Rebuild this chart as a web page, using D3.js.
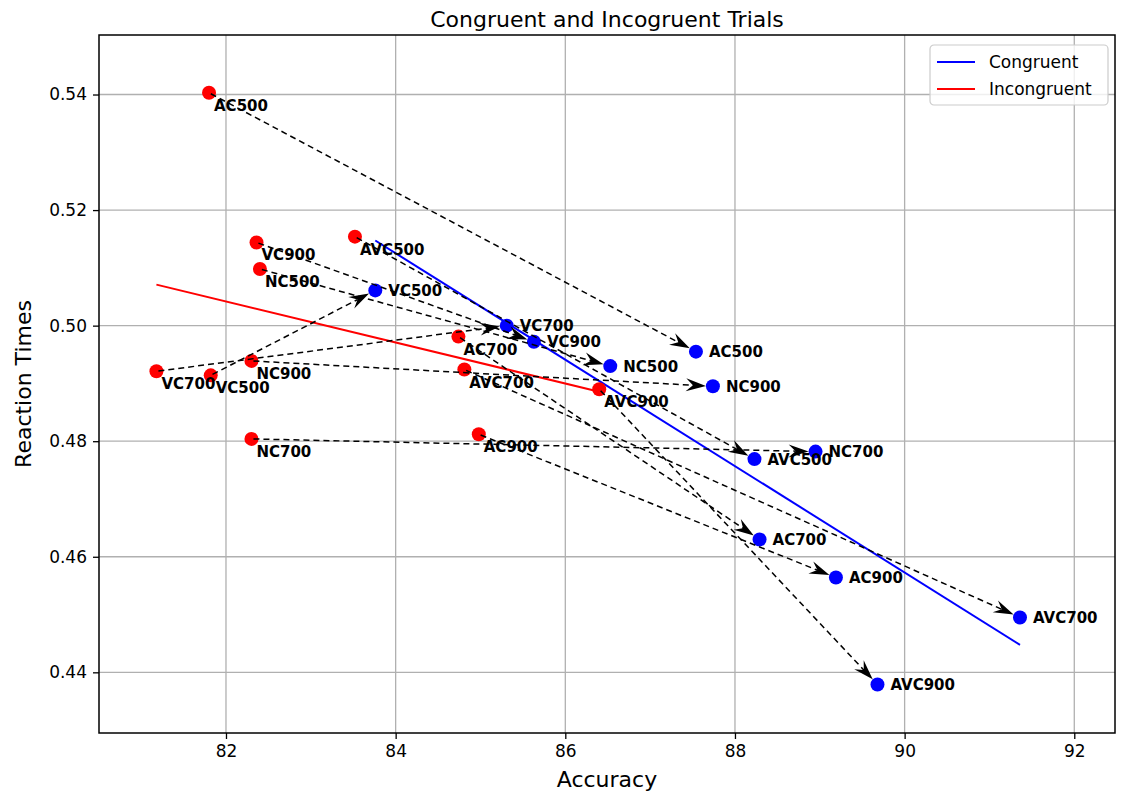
<!DOCTYPE html>
<html>
<head>
<meta charset="utf-8">
<script src="https://cdn.jsdelivr.net/npm/d3@7"></script>
<style>
  body { margin: 0; background: #fff; }
  svg { display: block; }
  text { font-family: "DejaVu Sans", sans-serif; }
</style>
</head>
<body>
<svg id="chart" width="1121" height="793"></svg>
<script>
// Condition names (shared by both trial types)
const conditions = ["AC500", "AC700", "AC900", "VC500", "VC700", "VC900",
                    "NC500", "NC700", "NC900", "AVC500", "AVC700", "AVC900"];

// Incongruent trials: accuracy (%) and reaction time (s)
const incongruentAccuracy = [81.80, 84.74, 84.98, 81.82, 81.18, 82.36,
                             82.40, 82.30, 82.30, 83.52, 84.81, 86.40];
const incongruentRT = [0.5403, 0.4981, 0.4812, 0.4914, 0.4921, 0.5144,
                       0.5098, 0.4804, 0.4939, 0.5154, 0.4924, 0.4890];

// Congruent trials: accuracy (%) and reaction time (s)
const congruentAccuracy = [87.54, 88.29, 89.19, 83.76, 85.31, 85.63,
                           86.53, 88.95, 87.74, 88.23, 91.36, 89.68];
const congruentRT = [0.4955, 0.4630, 0.4564, 0.5061, 0.5000, 0.4972,
                     0.4930, 0.4782, 0.4895, 0.4769, 0.4495, 0.4379];

const xTicks = [82, 84, 86, 88, 90, 92];
const yTicks = [0.44, 0.46, 0.48, 0.50, 0.52, 0.54];
const seriesNames = ["Congruent", "Incongruent"];
const seriesColors = ["#0000ff", "#ff0000"];

const W = 1121, H = 793;
const margin = { left: 99, right: 6, top: 35, bottom: 60 };

const svg = d3.select("#chart");

const x = d3.scaleLinear().domain([80.503, 92.48]).range([margin.left, W - margin.right]);
const y = d3.scaleLinear().domain([0.4295, 0.5503]).range([H - margin.bottom, margin.top]);

// Grid
const grid = svg.append("g");
grid.selectAll("line.vx").data(xTicks).join("line")
  .attr("x1", d => x(d)).attr("x2", d => x(d))
  .attr("y1", margin.top).attr("y2", H - margin.bottom)
  .attr("stroke", "#b0b0b0").attr("stroke-width", 1.3);
grid.selectAll("line.hy").data(yTicks).join("line")
  .attr("y1", d => y(d)).attr("y2", d => y(d))
  .attr("x1", margin.left).attr("x2", W - margin.right)
  .attr("stroke", "#b0b0b0").attr("stroke-width", 1.3);

// Least-squares fit line over the x-range of a series
function fitLine(xs, ys) {
  const mx = d3.mean(xs), my = d3.mean(ys);
  let sxy = 0, sxx = 0;
  xs.forEach((v, i) => { sxy += (v - mx) * (ys[i] - my); sxx += (v - mx) * (v - mx); });
  const slope = sxy / sxx, icpt = my - slope * mx;
  const [x0, x1] = d3.extent(xs);
  return [[x0, icpt + slope * x0], [x1, icpt + slope * x1]];
}

const lineGen = d3.line().x(d => x(d[0])).y(d => y(d[1]));
svg.append("path").datum(fitLine(congruentAccuracy, congruentRT))
  .attr("d", lineGen).attr("fill", "none")
  .attr("stroke", seriesColors[0]).attr("stroke-width", 2);
svg.append("path").datum(fitLine(incongruentAccuracy, incongruentRT))
  .attr("d", lineGen).attr("fill", "none")
  .attr("stroke", seriesColors[1]).attr("stroke-width", 2);

// Points
const rows = conditions.map((c, i) => ({
  name: c,
  ix: incongruentAccuracy[i], iy: incongruentRT[i],
  cx: congruentAccuracy[i], cy: congruentRT[i]
}));

svg.append("g").selectAll("circle").data(rows).join("circle")
  .attr("cx", d => x(d.ix)).attr("cy", d => y(d.iy)).attr("r", 7)
  .attr("fill", seriesColors[1]);
svg.append("g").selectAll("circle").data(rows).join("circle")
  .attr("cx", d => x(d.cx)).attr("cy", d => y(d.cy)).attr("r", 7)
  .attr("fill", seriesColors[0]);

// Point labels
svg.append("g").selectAll("text").data(rows).join("text")
  .attr("x", d => x(d.ix) + 5).attr("y", d => y(d.iy) + 18)
  .attr("font-size", 15).attr("font-weight", "bold").attr("fill", "#000")
  .text(d => d.name);
svg.append("g").selectAll("text").data(rows).join("text")
  .attr("x", d => x(d.cx) + 13).attr("y", d => y(d.cy) + 5.5)
  .attr("font-size", 15).attr("font-weight", "bold").attr("fill", "#000")
  .text(d => d.name);

// Dashed arrows from incongruent to congruent condition
const arrows = svg.append("g");
rows.forEach(d => {
  const x0 = x(d.ix), y0 = y(d.iy), x1 = x(d.cx), y1 = y(d.cy);
  const len = Math.hypot(x1 - x0, y1 - y0);
  const ux = (x1 - x0) / len, uy = (y1 - y0) / len;
  const nx = -uy, ny = ux;
  const gap = 7, L = 20, Wd = 13, notch = 13;
  const tx = x1 - ux * gap, ty = y1 - uy * gap;
  arrows.append("line")
    .attr("x1", x0 + ux * 2).attr("y1", y0 + uy * 2)
    .attr("x2", tx - ux * notch).attr("y2", ty - uy * notch)
    .attr("stroke", "#000").attr("stroke-width", 1.5)
    .attr("stroke-dasharray", "6,4");
  const pts = [
    [tx, ty],
    [tx - ux * L + nx * Wd / 2, ty - uy * L + ny * Wd / 2],
    [tx - ux * notch, ty - uy * notch],
    [tx - ux * L - nx * Wd / 2, ty - uy * L - ny * Wd / 2]
  ];
  arrows.append("polygon").attr("points", pts.map(p => p.join(",")).join(" "))
    .attr("fill", "#000");
});

// Frame
svg.append("rect")
  .attr("x", margin.left).attr("y", margin.top)
  .attr("width", W - margin.left - margin.right)
  .attr("height", H - margin.top - margin.bottom)
  .attr("fill", "none").attr("stroke", "#000").attr("stroke-width", 1.5);

// Axes
const xAxis = svg.append("g").attr("transform", `translate(0,${H - margin.bottom})`)
  .call(d3.axisBottom(x).tickValues(xTicks).tickFormat(d3.format("d")).tickSize(6).tickPadding(6));
const yAxis = svg.append("g").attr("transform", `translate(${margin.left},0)`)
  .call(d3.axisLeft(y).tickValues(yTicks).tickFormat(d3.format(".2f")).tickSize(6).tickPadding(6));
[xAxis, yAxis].forEach(a => {
  a.select(".domain").remove();
  a.selectAll(".tick line").attr("stroke", "#000").attr("stroke-width", 1.3);
  a.selectAll(".tick text").attr("font-size", 17).attr("fill", "#000")
    .attr("font-family", "DejaVu Sans, sans-serif");
});

// Titles
svg.append("text").attr("x", (margin.left + W - margin.right) / 2).attr("y", 27)
  .attr("text-anchor", "middle").attr("font-size", 22).text("Congruent and Incogruent Trials");
svg.append("text").attr("x", (margin.left + W - margin.right) / 2).attr("y", 787)
  .attr("text-anchor", "middle").attr("font-size", 22).text("Accuracy");
svg.append("text")
  .attr("transform", `translate(31,${(margin.top + H - margin.bottom) / 2}) rotate(-90)`)
  .attr("text-anchor", "middle").attr("font-size", 22).text("Reaction Times");

// Legend
const legend = svg.append("g").attr("transform", "translate(930,45)");
legend.append("rect").attr("width", 178).attr("height", 60).attr("rx", 4)
  .attr("fill", "#fff").attr("fill-opacity", 0.8)
  .attr("stroke", "#cccccc").attr("stroke-width", 1.2);
seriesNames.forEach((name, i) => {
  const yy = 17 + i * 27;
  legend.append("line").attr("x1", 7).attr("x2", 45).attr("y1", yy).attr("y2", yy)
    .attr("stroke", seriesColors[i]).attr("stroke-width", 2);
  legend.append("text").attr("x", 59).attr("y", yy + 6)
    .attr("font-size", 17).text(name);
});
</script>
</body>
</html>
